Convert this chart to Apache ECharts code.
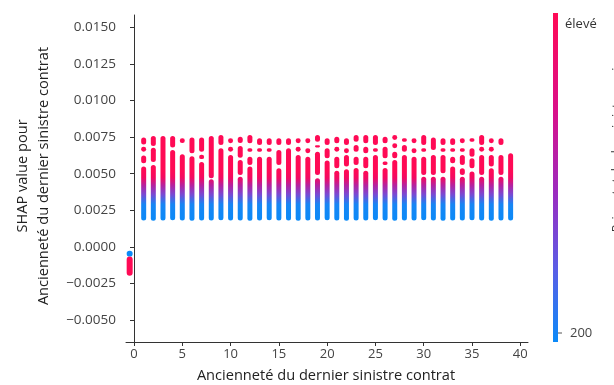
<!DOCTYPE html>
<html>
<head>
<meta charset="utf-8">
<script src="https://cdn.jsdelivr.net/npm/echarts@6/dist/echarts.min.js"></script>
<style>
  html, body { margin: 0; padding: 0; background: #ffffff; }
  #chart { width: 614px; height: 385px; }
</style>
</head>
<body>
<div id="chart"></div>
<script>
// Ancienneté du dernier sinistre (years) for each column of points
const ageValues = [
  1, 2, 3, 4, 5, 6, 7, 8, 9, 10,
  11, 12, 13, 14, 15, 16, 17, 18, 19, 20,
  21, 22, 23, 24, 25, 26, 27, 28, 29, 30,
  31, 32, 33, 34, 35, 36, 37, 38, 39
];

// SHAP value runs for each age: [low, high] stretches of densely stacked points
const shapRuns = [
  [[0.00700, 0.00747], [0.00651, 0.00685], [0.00572, 0.00624], [0.00180, 0.00549]],
  [[0.00690, 0.00758], [0.00580, 0.00678], [0.00178, 0.00560]],
  [[0.00180, 0.00758]],
  [[0.00680, 0.00758], [0.00182, 0.00663]],
  [[0.00710, 0.00742], [0.00180, 0.00633]],
  [[0.00640, 0.00747], [0.00178, 0.00620]],
  [[0.00650, 0.00747], [0.00600, 0.00630], [0.00180, 0.00580]],
  [[0.00470, 0.00758], [0.00180, 0.00462]],
  [[0.00697, 0.00765], [0.00182, 0.00674]],
  [[0.00708, 0.00742], [0.00651, 0.00685], [0.00180, 0.00628]],
  [[0.00710, 0.00753], [0.00610, 0.00690], [0.00492, 0.00594], [0.00180, 0.00480]],
  [[0.00708, 0.00765], [0.00651, 0.00674], [0.00560, 0.00617], [0.00178, 0.00550]],
  [[0.00697, 0.00742], [0.00651, 0.00674], [0.00180, 0.00617]],
  [[0.00697, 0.00742], [0.00651, 0.00674], [0.00182, 0.00617]],
  [[0.00697, 0.00742], [0.00560, 0.00663], [0.00180, 0.00538]],
  [[0.00697, 0.00742], [0.00180, 0.00674]],
  [[0.00708, 0.00742], [0.00651, 0.00685], [0.00178, 0.00628]],
  [[0.00708, 0.00742], [0.00640, 0.00674], [0.00180, 0.00617]],
  [[0.00719, 0.00765], [0.00680, 0.00695], [0.00492, 0.00651], [0.00180, 0.00469]],
  [[0.00697, 0.00742], [0.00606, 0.00674], [0.00182, 0.00590]],
  [[0.00708, 0.00753], [0.00651, 0.00685], [0.00538, 0.00617], [0.00180, 0.00520]],
  [[0.00697, 0.00742], [0.00640, 0.00674], [0.00550, 0.00628], [0.00178, 0.00530]],
  [[0.00719, 0.00765], [0.00651, 0.00697], [0.00560, 0.00617], [0.00180, 0.00540]],
  [[0.00708, 0.00765], [0.00640, 0.00685], [0.00538, 0.00617], [0.00180, 0.00520]],
  [[0.00697, 0.00765], [0.00651, 0.00674], [0.00182, 0.00628]],
  [[0.00708, 0.00753], [0.00606, 0.00685], [0.00560, 0.00583], [0.00180, 0.00540]],
  [[0.00731, 0.00765], [0.00674, 0.00708], [0.00606, 0.00651], [0.00178, 0.00594]],
  [[0.00719, 0.00742], [0.00651, 0.00697], [0.00180, 0.00628]],
  [[0.00708, 0.00742], [0.00640, 0.00674], [0.00180, 0.00617]],
  [[0.00697, 0.00765], [0.00651, 0.00674], [0.00492, 0.00617], [0.00182, 0.00480]],
  [[0.00663, 0.00747], [0.00492, 0.00628], [0.00180, 0.00480]],
  [[0.00697, 0.00742], [0.00651, 0.00674], [0.00503, 0.00628], [0.00178, 0.00480]],
  [[0.00697, 0.00742], [0.00651, 0.00674], [0.00572, 0.00617], [0.00180, 0.00550]],
  [[0.00708, 0.00742], [0.00651, 0.00674], [0.00560, 0.00628], [0.00492, 0.00538], [0.00180, 0.00480]],
  [[0.00719, 0.00742], [0.00617, 0.00674], [0.00538, 0.00606], [0.00182, 0.00515]],
  [[0.00697, 0.00765], [0.00651, 0.00685], [0.00492, 0.00628], [0.00180, 0.00480]],
  [[0.00708, 0.00742], [0.00651, 0.00685], [0.00549, 0.00628], [0.00178, 0.00538]],
  [[0.00697, 0.00742], [0.00492, 0.00628], [0.00180, 0.00480]],
  [[0.00180, 0.00640]]
];

// Contracts with no recorded claim, plotted left of 0
const missingAge = -0.45;
const missingRuns = [[-0.00066, -0.00027], [-0.00198, -0.00066]];
const missingRunLevels = [0, 1];   // 0 = low (200), 1 = high (élevé)

// Axis ticks
const xTicks = [0, 5, 10, 15, 20, 25, 30, 35, 40];
const yTicks = [-0.005, -0.0025, 0, 0.0025, 0.005, 0.0075, 0.01, 0.0125, 0.015];

// Colour scale of the interaction feature
const lowColour = '#0b8af8';
const highColour = '#ff0a55';
const colourbarStops = [
  [0.00, highColour],
  [0.30, '#d9108a'],
  [0.55, '#9a2cc0'],
  [0.78, '#5a5ee6'],
  [1.00, lowColour]
];
// Along the columns the colour shifts from low values at the bottom to high values above
const columnColourAt = [
  [0.0018, lowColour],
  [0.0029, '#1786f4'],
  [0.0036, '#7a48d2'],
  [0.0042, '#b4229f'],
  [0.0047, '#f20a62'],
  [0.0052, highColour]
];

const runData = [];
ageValues.forEach((age, i) => {
  shapRuns[i].forEach(r => runData.push([age, r[0], r[1]]));
});
const missingData = missingRuns.map((r, i) => [missingAge, r[0], r[1], missingRunLevels[i]]);

const chart = echarts.init(document.getElementById('chart'), null, { renderer: 'canvas' });

function columnGradient(api) {
  const first = columnColourAt[0][0];
  const last = columnColourAt[columnColourAt.length - 1][0];
  const y0 = api.coord([0, first])[1];
  const y1 = api.coord([0, last])[1];
  const stops = columnColourAt.map(s => ({
    offset: (s[0] - first) / (last - first),
    color: s[1]
  }));
  return new echarts.graphic.LinearGradient(0, y0, 0, y1, stops, true);
}

function capsule(api, width, fill) {
  const top = api.coord([api.value(0), api.value(2)]);
  const bottom = api.coord([api.value(0), api.value(1)]);
  const h = bottom[1] - top[1];
  return {
    type: 'rect',
    shape: {
      x: top[0] - width / 2,
      y: top[1],
      width: width,
      height: h,
      r: Math.min(width / 2, h / 2)
    },
    style: { fill: fill }
  };
}

const font = 'Open Sans';

chart.setOption({
  animation: false,
  backgroundColor: '#ffffff',
  grid: { left: 126, top: 15, width: 402, height: 327 },
  xAxis: {
    type: 'value',
    min: -0.83,
    max: 40.8,
    axisLine: { show: true, onZero: false, lineStyle: { color: '#333', width: 1 } },
    axisTick: { show: true, length: 4, customValues: xTicks, lineStyle: { color: '#333' } },
    axisLabel: { customValues: xTicks, margin: 6, fontFamily: font, fontSize: 13, color: '#444' },
    splitLine: { show: false }
  },
  yAxis: {
    type: 'value',
    min: -0.0065,
    max: 0.01585,
    axisLine: { show: true, lineStyle: { color: '#333', width: 1 } },
    axisTick: { show: true, length: 4, customValues: yTicks, lineStyle: { color: '#333' } },
    axisLabel: {
      customValues: yTicks,
      margin: 10,
      fontFamily: font,
      fontSize: 13.5,
      color: '#444',
      formatter: v => (v < 0 ? '\u2212' : '') + Math.abs(v).toFixed(4)
    },
    splitLine: { show: false }
  },
  series: [
    {
      type: 'custom',
      name: 'shap',
      data: runData,
      encode: { x: 0, y: [1, 2] },
      clip: true,
      renderItem: (params, api) => capsule(api, 5, columnGradient(api))
    },
    {
      type: 'custom',
      name: 'missing',
      data: missingData,
      encode: { x: 0, y: [1, 2] },
      renderItem: (params, api) =>
        capsule(api, 6, api.value(3) > 0.5 ? highColour : lowColour)
    }
  ],
  graphic: [
    // y-axis title
    {
      type: 'text',
      x: 33, y: 176,
      rotation: Math.PI / 2,
      style: {
        text: 'SHAP value pour\nAncienneté du dernier sinistre contrat',
        align: 'center',
        verticalAlign: 'middle',
        lineHeight: 21,
        fontFamily: font,
        fontSize: 14.6,
        fill: '#222'
      }
    },
    // x-axis title
    {
      type: 'text',
      x: 326, y: 376,
      style: {
        text: 'Ancienneté du dernier sinistre contrat',
        align: 'center',
        verticalAlign: 'middle',
        fontFamily: font,
        fontSize: 14.6,
        fill: '#222'
      }
    },
    // colour bar
    {
      type: 'rect',
      shape: { x: 553, y: 13, width: 5, height: 329 },
      style: {
        fill: new echarts.graphic.LinearGradient(0, 0, 0, 1,
          colourbarStops.map(s => ({ offset: s[0], color: s[1] })))
      }
    },
    {
      type: 'line',
      shape: { x1: 558, y1: 333, x2: 562, y2: 333 },
      style: { stroke: '#555', lineWidth: 1 }
    },
    {
      type: 'text',
      x: 565, y: 24,
      style: { text: 'élevé', align: 'left', verticalAlign: 'middle',
        fontFamily: font, fontSize: 13, fill: '#333' }
    },
    {
      type: 'text',
      x: 570, y: 333,
      style: { text: '200', align: 'left', verticalAlign: 'middle',
        fontFamily: font, fontSize: 13, fill: '#444' }
    },
    {
      type: 'text',
      x: 617, y: 146,
      rotation: Math.PI / 2,
      style: { text: 'Prime totale des sinistres min', align: 'center', verticalAlign: 'middle',
        fontFamily: font, fontSize: 12.5, fill: '#333' }
    }
  ]
});
</script>
</body>
</html>
